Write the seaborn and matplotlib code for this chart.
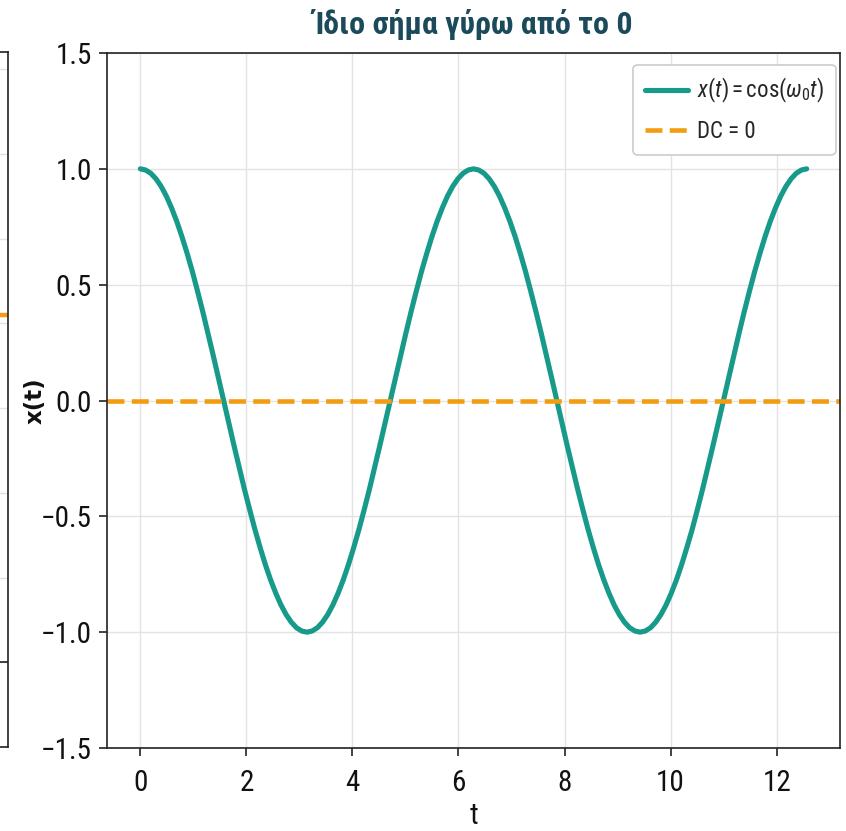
import matplotlib
matplotlib.use("Agg")
import matplotlib.pyplot as plt
from matplotlib import font_manager as fm
import seaborn as sns
import pandas as pd

# ---- data ----
t_vals = [0.000, 0.098, 0.196, 0.295, 0.393, 0.491, 0.589, 0.687, 0.785, 0.884, 0.982,
          1.080, 1.178, 1.276, 1.374, 1.473, 1.571, 1.669, 1.767, 1.865, 1.963, 2.062,
          2.160, 2.258, 2.356, 2.454, 2.553, 2.651, 2.749, 2.847, 2.945, 3.043, 3.142,
          3.240, 3.338, 3.436, 3.534, 3.632, 3.731, 3.829, 3.927, 4.025, 4.123, 4.222,
          4.320, 4.418, 4.516, 4.614, 4.712, 4.811, 4.909, 5.007, 5.105, 5.203, 5.301,
          5.400, 5.498, 5.596, 5.694, 5.792, 5.890, 5.989, 6.087, 6.185, 6.283, 6.381,
          6.480, 6.578, 6.676, 6.774, 6.872, 6.970, 7.069, 7.167, 7.265, 7.363, 7.461,
          7.560, 7.658, 7.756, 7.854, 7.952, 8.050, 8.149, 8.247, 8.345, 8.443, 8.541,
          8.639, 8.738, 8.836, 8.934, 9.032, 9.130, 9.228, 9.327, 9.425, 9.523, 9.621,
          9.719, 9.817, 9.916, 10.014, 10.112, 10.210, 10.308, 10.407, 10.505, 10.603,
          10.701, 10.799, 10.897, 10.996, 11.094, 11.192, 11.290, 11.388, 11.486, 11.585,
          11.683, 11.781, 11.879, 11.977, 12.076, 12.174, 12.272, 12.370, 12.468, 12.566]
x_vals = [1.000, 0.995, 0.981, 0.957, 0.924, 0.882, 0.831, 0.773, 0.707, 0.634, 0.556,
          0.471, 0.383, 0.290, 0.195, 0.098, 0.000, -0.098, -0.195, -0.290, -0.383, -0.471,
          -0.556, -0.634, -0.707, -0.773, -0.831, -0.882, -0.924, -0.957, -0.981, -0.995, -1.000,
          -0.995, -0.981, -0.957, -0.924, -0.882, -0.831, -0.773, -0.707, -0.634, -0.556, -0.471,
          -0.383, -0.290, -0.195, -0.098, 0.000, 0.098, 0.195, 0.290, 0.383, 0.471, 0.556,
          0.634, 0.707, 0.773, 0.831, 0.882, 0.924, 0.957, 0.981, 0.995, 1.000, 0.995,
          0.981, 0.957, 0.924, 0.882, 0.831, 0.773, 0.707, 0.634, 0.556, 0.471, 0.383,
          0.290, 0.195, 0.098, 0.000, -0.098, -0.195, -0.290, -0.383, -0.471, -0.556, -0.634,
          -0.707, -0.773, -0.831, -0.882, -0.924, -0.957, -0.981, -0.995, -1.000, -0.995, -0.981,
          -0.957, -0.924, -0.882, -0.831, -0.773, -0.707, -0.634, -0.556, -0.471, -0.383,
          -0.290, -0.195, -0.098, 0.000, 0.098, 0.195, 0.290, 0.383, 0.471, 0.556,
          0.634, 0.707, 0.773, 0.831, 0.882, 0.924, 0.957, 0.981, 0.995, 1.000]
dc_level = 0.0
y_ticks = [-1.5, -1.0, -0.5, 0.0, 0.5, 1.0, 1.5]
y_tick_labels = ["\u22121.5", "\u22121.0", "\u22120.5", "0.0", "0.5", "1.0", "1.5"]
x_ticks = [0, 2, 4, 6, 8, 10, 12]
title_text = "Ίδιο σήμα γύρω από το 0"
label_signal = r"$x(t) = \cos(\omega_0 t)$"
label_dc = "DC = 0"
xlabel_text = "t"
ylabel_text = "x(t)"

# left (partially visible) neighbouring panel
left_dc_level = 4.1
left_ylim = (-1.0, 7.2)

TEAL = "#179a8a"
ORANGE = "#f39c12"
TITLE_COLOR = "#1b4a5a"

sns.set_theme(style="whitegrid")

names = {f.name for f in fm.fontManager.ttflist}
cond = None
for n in ["Roboto Condensed", "Liberation Sans Narrow", "Open Sans Condensed",
          "Noto Sans Condensed", "DejaVu Sans Condensed"]:
    if n in names:
        cond = n
        break
stretch = "normal"
if cond is None:
    cond = "DejaVu Sans"
    stretch = "condensed"

plt.rcParams["font.family"] = [cond, "DejaVu Sans"]
plt.rcParams["font.stretch"] = stretch
plt.rcParams["mathtext.fontset"] = "custom"
plt.rcParams["mathtext.rm"] = f"{cond}:stretch={stretch}"
plt.rcParams["mathtext.it"] = f"{cond}:italic:stretch={stretch}"
plt.rcParams["mathtext.bf"] = f"{cond}:bold:stretch={stretch}"

fig = plt.figure(figsize=(8.46, 8.31), dpi=100)
fig.patch.set_facecolor("white")

# neighbouring panel (only its right edge is visible)
axl = fig.add_axes([-0.40, 0.1010, 0.4095, 0.8363])
axl.set_ylim(*left_ylim)
axl.set_xlim(0, 1)
axl.axhline(left_dc_level, color=ORANGE, lw=3.2, ls="--")
axl.axhline(0, color="#222222", lw=1.2)
axl.set_yticks(range(-1, 8))
axl.grid(True, color="#e3e3e3", lw=1)
axl.tick_params(labelleft=False, labelbottom=False, left=False, bottom=False)
for s in axl.spines.values():
    s.set_color("#222222")
    s.set_linewidth(1.2)
axl.plot([], [], color=TEAL, lw=3, label="  ")
lg0 = axl.legend(loc="upper right", fontsize=17, frameon=True, borderaxespad=0.9,
                 handlelength=2.0)
lg0.get_frame().set_edgecolor("#cccccc")

# main panel
ax = fig.add_axes([0.1265, 0.0999, 0.8664, 0.8363])
df = pd.DataFrame({"t": t_vals, "x": x_vals})
sns.lineplot(data=df, x="t", y="x", ax=ax, color=TEAL, lw=3.7, label=label_signal,
             sort=False, solid_joinstyle="round", solid_capstyle="round")
ax.axhline(dc_level, color=ORANGE, lw=3.3, ls="--", label=label_dc)

ax.set_ylim(-1.5, 1.5)
ax.set_yticks(y_ticks)
ax.set_yticklabels(y_tick_labels)
ax.set_xticks(x_ticks)
ax.margins(x=0.05)
ax.grid(True, color="#e3e3e3", lw=1)
for s in ax.spines.values():
    s.set_color("#222222")
    s.set_linewidth(1.2)
ax.tick_params(axis="both", which="both", length=6, width=1.2, color="#222222",
               labelsize=21, labelcolor="#111111", left=True, bottom=True)
ax.tick_params(axis="x", pad=9)
ax.tick_params(axis="y", pad=5)

ax.set_title(title_text, fontsize=23, fontweight="bold", color=TITLE_COLOR, pad=14)
ax.set_xlabel(xlabel_text, fontsize=21, color="#111111", labelpad=4)
ax.set_ylabel(ylabel_text, fontsize=16.5, fontweight="bold", color="#111111",
              family=["DejaVu Sans"], fontstretch="normal")
ax.yaxis.set_label_coords(-0.083, 0.5)

leg = ax.legend(loc="upper right", bbox_to_anchor=(0.9945, 0.983), borderaxespad=0,
                fontsize=16.5, frameon=True, handlelength=1.9, handletextpad=0.4,
                borderpad=0.5, labelspacing=0.65)
leg.get_frame().set_edgecolor("#cccccc")
leg.get_frame().set_linewidth(1.2)
leg.get_frame().set_alpha(1.0)

fig.savefig("out.png", dpi=100, facecolor="white")
